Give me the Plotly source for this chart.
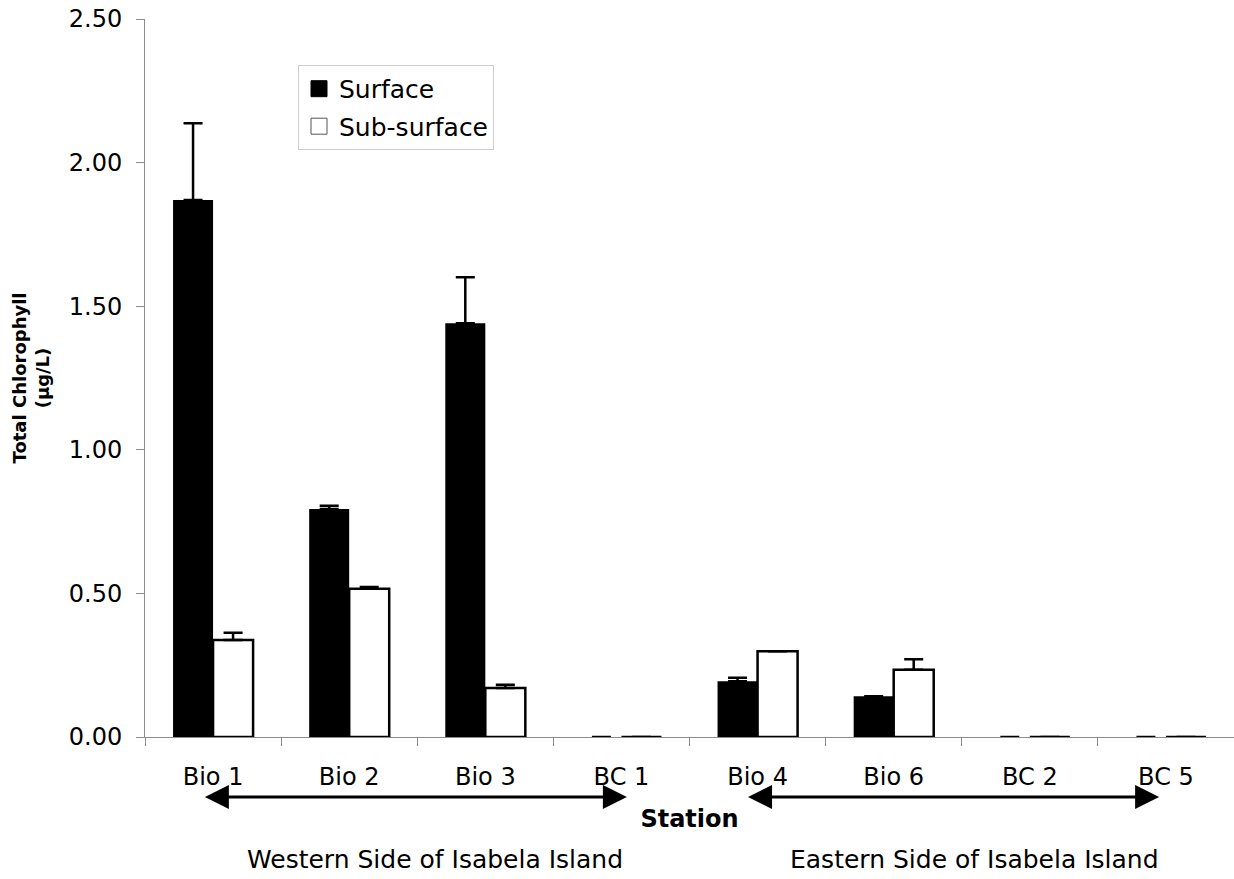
import plotly.graph_objects as go

stations = ["Bio 1", "Bio 2", "Bio 3", "BC 1", "Bio 4", "Bio 6", "BC 2", "BC 5"]
surface = [1.870, 0.794, 1.441, 0.0, 0.194, 0.142, 0.0, 0.0]
surface_err = [0.267, 0.011, 0.160, 0.0, 0.012, 0.0, 0.0, 0.0]
subsurface = [0.338, 0.516, 0.171, 0.0, 0.299, 0.234, 0.0, 0.0]
subsurface_err = [0.025, 0.006, 0.011, 0.0, 0.0, 0.037, 0.0, 0.0]
y_ticks = [0.0, 0.5, 1.0, 1.5, 2.0, 2.5]

FONT = "DejaVu Sans, Verdana, sans-serif"
AXIS_GREY = "#8c8c8c"

fig = go.Figure()

fig.add_trace(go.Bar(
    x=stations, y=surface, name="Surface", showlegend=False,
    marker=dict(color="black", line=dict(color="black", width=0)),
    error_y=dict(type="data", symmetric=False, array=surface_err,
                 arrayminus=[0] * len(surface_err),
                 color="black", thickness=2.5, width=9.5),
))
fig.add_trace(go.Bar(
    x=stations, y=subsurface, name="Sub-surface", showlegend=False,
    marker=dict(color="white", line=dict(color="black", width=2.5)),
    error_y=dict(type="data", symmetric=False, array=subsurface_err,
                 arrayminus=[0] * len(subsurface_err),
                 color="black", thickness=2.5, width=9.5),
))

# legend proxies (larger square swatches)
fig.add_trace(go.Scatter(
    x=[None], y=[None], mode="markers", name="Surface", legendgroup="a",
    marker=dict(symbol="square", size=20, color="black",
                line=dict(color="black", width=1)),
))
fig.add_trace(go.Scatter(
    x=[None], y=[None], mode="markers", name="Sub-surface", legendgroup="b",
    marker=dict(symbol="square", size=20, color="white",
                line=dict(color="#555555", width=1)),
))

# double-headed arrows (West / East)
ARROW_Y = -0.0836      # paper
HEAD_H = 12 / 718      # paper half height
HEAD_L = 24 / 136.1    # data units along category axis
arrows = [(-0.06, 3.04), (3.93, 6.95)]
for x0, x1 in arrows:
    fig.add_shape(type="line", xref="x", yref="paper",
                  x0=x0 + HEAD_L * 0.9, x1=x1 - HEAD_L * 0.9, y0=ARROW_Y, y1=ARROW_Y,
                  line=dict(color="black", width=3))
    fig.add_shape(type="path", xref="x", yref="paper",
                  path=f"M {x0},{ARROW_Y} L {x0 + HEAD_L},{ARROW_Y + HEAD_H} "
                       f"L {x0 + HEAD_L},{ARROW_Y - HEAD_H} Z",
                  fillcolor="black", line=dict(color="black", width=0))
    fig.add_shape(type="path", xref="x", yref="paper",
                  path=f"M {x1},{ARROW_Y} L {x1 - HEAD_L},{ARROW_Y + HEAD_H} "
                       f"L {x1 - HEAD_L},{ARROW_Y - HEAD_H} Z",
                  fillcolor="black", line=dict(color="black", width=0))

fig.add_annotation(text="Western Side of Isabela Island", xref="x", yref="paper",
                   x=1.63, y=-0.171, showarrow=False, xanchor="center", yanchor="middle",
                   font=dict(family=FONT, size=25, color="black"))
fig.add_annotation(text="Eastern Side of Isabela Island", xref="x", yref="paper",
                   x=5.59, y=-0.171, showarrow=False, xanchor="center", yanchor="middle",
                   font=dict(family=FONT, size=25, color="black"))

fig.update_layout(
    width=1234, height=879,
    margin=dict(l=145, r=0, t=19, b=142),
    paper_bgcolor="white", plot_bgcolor="white",
    barmode="group", bargap=0.412, bargroupgap=0,
    font=dict(family=FONT, size=24, color="black"),
    showlegend=True,
    legend=dict(x=0.1405, y=0.936, xanchor="left", yanchor="top",
                bordercolor="#cccccc", borderwidth=1, bgcolor="white",
                font=dict(family=FONT, size=25, color="black"),
                tracegroupgap=2, traceorder="grouped"),
    xaxis=dict(
        type="category", range=[-0.5, 7.5],
        showline=True, linecolor=AXIS_GREY, linewidth=1,
        ticks="outside", tickson="boundaries", ticklen=8, tickcolor=AXIS_GREY,
        tickfont=dict(family=FONT, size=24, color="black"),
        ticklabelstandoff=18,
        showgrid=False, zeroline=False,
        title=dict(text="<b>Station</b>", standoff=20,
                   font=dict(family=FONT, size=24, color="black")),
    ),
    yaxis=dict(
        range=[0, 2.5], tickvals=y_ticks, ticktext=[f"{v:.2f}" for v in y_ticks],
        showline=True, linecolor=AXIS_GREY, linewidth=1,
        ticks="outside", ticklen=8, tickcolor=AXIS_GREY,
        tickfont=dict(family=FONT, size=24, color="black"),
        ticklabelstandoff=9,
        showgrid=False, zeroline=False,
        title=dict(text="<b>Total Chlorophyll<br>(µg/L)</b>", standoff=14,
                   font=dict(family=FONT, size=18, color="black")),
    ),
)

fig.write_html("out.html",
               config={"displayModeBar": False},
               post_script="document.body.style.margin='0';document.body.style.overflow='hidden';")
